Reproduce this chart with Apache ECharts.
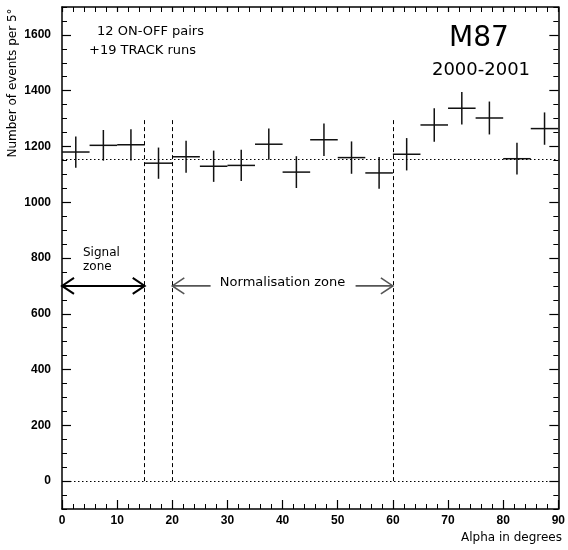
<!DOCTYPE html>
<html>
<head>
<meta charset="utf-8">
<script src="https://cdn.jsdelivr.net/npm/echarts@6/dist/echarts.min.js"></script>
<style>html,body{margin:0;padding:0;background:#fff}#c{width:568px;height:550px}</style>
</head>
<body>
<div id="c"></div>
<script>
// ---- data ----
const binCenters = [2.5, 7.5, 12.5, 17.5, 22.5, 27.5, 32.5, 37.5, 42.5, 47.5, 52.5, 57.5, 62.5, 67.5, 72.5, 77.5, 82.5, 87.5];
const binWidth = 5;
const counts = [1180, 1204, 1206, 1140, 1163, 1129, 1132, 1208, 1108, 1224, 1160, 1105, 1172, 1277, 1337, 1302, 1156, 1264];
const errors = [56, 55, 56, 56, 57, 56, 56, 56, 57, 58, 58, 57, 58, 60, 58, 59, 57, 58];
const backgroundLevel = 1154;
const zoneEdges = [15, 20, 60];
const zoneLineTop = 1300;
const arrowLevel = 700;
const zones = [
  {from: 0, to: 15, name: 'Signal\nzone'},
  {from: 20, to: 60, name: 'Normalisation zone'}
];
const xTicks = [0, 10, 20, 30, 40, 50, 60, 70, 80, 90];
const yTicks = [0, 200, 400, 600, 800, 1000, 1200, 1400, 1600];

const chart = echarts.init(document.getElementById('c'), null, {renderer: 'canvas'});
const lab = {fontFamily: 'Liberation Sans', fontWeight: 'bold', fontSize: 12, color: '#000', formatter: v => String(v)};

function yAx(pos, major, labels) {
  return {
    type: 'value', position: pos, min: -100, max: 1700, interval: 50,
    axisLine: {show: !major, lineStyle: {color: '#000', width: 1.5}},
    axisTick: major
      ? {show: true, inside: true, length: 9, customValues: yTicks, lineStyle: {color: '#000', width: 1.2}}
      : {show: true, inside: true, length: 5, lineStyle: {color: '#000', width: 1}},
    axisLabel: labels
      ? Object.assign({show: true, margin: 11, customValues: yTicks}, lab)
      : {show: false},
    splitLine: {show: false}
  };
}
function xAx(pos, labels) {
  return {
    type: 'value', position: pos, min: 0, max: 90, interval: 10,
    axisLine: {show: true, onZero: false, lineStyle: {color: '#000', width: 1.5}},
    axisTick: {show: true, inside: true, length: labels ? 9 : 5, lineStyle: {color: '#000', width: 1.2}},
    minorTick: {show: true, splitNumber: 5, length: 5, lineStyle: {color: '#000', width: 1}},
    axisLabel: labels ? Object.assign({show: true, margin: 6, customValues: xTicks}, lab) : {show: false},
    splitLine: {show: false}
  };
}

const option = {
  animation: false,
  backgroundColor: '#fff',
  grid: {left: 62, right: 5, top: 7, bottom: 41, containLabel: false},
  xAxis: [xAx('bottom', true), xAx('top', false)],
  yAxis: [yAx('left', false, true), yAx('left', true, false), yAx('right', false, false), yAx('right', true, false)],
  graphic: [
    {type: 'text', x: 13, y: 83, rotation: Math.PI / 2,
     style: {text: 'Number of events per 5°', font: '12px "DejaVu Sans"', fill: '#000', align: 'center', verticalAlign: 'middle'}},
    {type: 'text', x: 562, y: 538,
     style: {text: 'Alpha in degrees', font: '12px "DejaVu Sans"', fill: '#000', align: 'right', verticalAlign: 'middle'}},
    {type: 'text', x: 97, y: 32,
     style: {text: '12 ON-OFF pairs', font: '13px "DejaVu Sans"', fill: '#000', align: 'left', verticalAlign: 'middle'}},
    {type: 'text', x: 89, y: 51,
     style: {text: '+19 TRACK runs', font: '13px "DejaVu Sans"', fill: '#000', align: 'left', verticalAlign: 'middle'}},
    {type: 'text', x: 479, y: 39,
     style: {text: 'M87', font: '28px "DejaVu Sans"', fill: '#000', align: 'center', verticalAlign: 'middle'}},
    {type: 'text', x: 481, y: 70,
     style: {text: '2000-2001', font: '18px "DejaVu Sans"', fill: '#000', align: 'center', verticalAlign: 'middle'}}
  ],
  series: [
    {
      type: 'custom', xAxisIndex: 0, yAxisIndex: 0, silent: true,
      data: binCenters.map((c, i) => [c, counts[i], errors[i]]),
      renderItem: function (params, api) {
        const x = api.value(0), y = api.value(1), e = api.value(2);
        const l = api.coord([x - binWidth / 2, y]), r = api.coord([x + binWidth / 2, y]);
        const t = api.coord([x, y + e]), b = api.coord([x, y - e]);
        const st = {stroke: '#111', lineWidth: 1.5};
        return {type: 'group', children: [
          {type: 'line', shape: {x1: l[0], y1: l[1], x2: r[0], y2: r[1]}, style: st},
          {type: 'line', shape: {x1: t[0], y1: t[1], x2: b[0], y2: b[1]}, style: st}
        ]};
      },
      markLine: {
        silent: true, symbol: 'none', label: {show: false},
        data: [
          {yAxis: backgroundLevel, lineStyle: {type: [1.5, 2.5], color: '#000', width: 1}},
          {yAxis: 0, lineStyle: {type: [1.5, 2.5], color: '#000', width: 1}}
        ].concat(zoneEdges.map(v => [
          {coord: [v, 0], lineStyle: {type: [4, 3], color: '#000', width: 1}},
          {coord: [v, zoneLineTop]}
        ]))
      }
    },
    {
      type: 'custom', xAxisIndex: 0, yAxisIndex: 0, silent: true,
      data: zones.map((z, i) => [z.from, z.to, arrowLevel, i]),
      renderItem: function (params, api) {
        const i = api.value(3);
        const a = api.coord([api.value(0), api.value(2)]);
        const b = api.coord([api.value(1), api.value(2)]);
        const isSignal = i === 0;
        const st = {stroke: isSignal ? '#000' : '#555', lineWidth: isSignal ? 2 : 1.6, fill: null};
        const h = 12, w = 8;
        const kids = [
          {type: 'polyline', shape: {points: [[a[0] + h, a[1] - w], [a[0], a[1]], [a[0] + h, a[1] + w]]}, style: st},
          {type: 'polyline', shape: {points: [[b[0] - h, b[1] - w], [b[0], b[1]], [b[0] - h, b[1] + w]]}, style: st}
        ];
        if (isSignal) {
          kids.push({type: 'line', shape: {x1: a[0], y1: a[1], x2: b[0], y2: b[1]}, style: st});
          kids.push({type: 'text', x: a[0] + 21, y: a[1] - 40,
            style: {text: zones[i].name, font: '12px "DejaVu Sans"', fill: '#000', align: 'left', verticalAlign: 'top', lineHeight: 14}});
        } else {
          const mid = (a[0] + b[0]) / 2;
          kids.push({type: 'line', shape: {x1: a[0], y1: a[1], x2: mid - 72, y2: b[1]}, style: st});
          kids.push({type: 'line', shape: {x1: mid + 73, y1: a[1], x2: b[0], y2: b[1]}, style: st});
          kids.push({type: 'text', x: mid, y: a[1] - 3,
            style: {text: zones[i].name, font: '13px "DejaVu Sans"', fill: '#000', align: 'center', verticalAlign: 'middle'}});
        }
        return {type: 'group', children: kids};
      }
    }
  ]
};
chart.setOption(option);
</script>
</body>
</html>
